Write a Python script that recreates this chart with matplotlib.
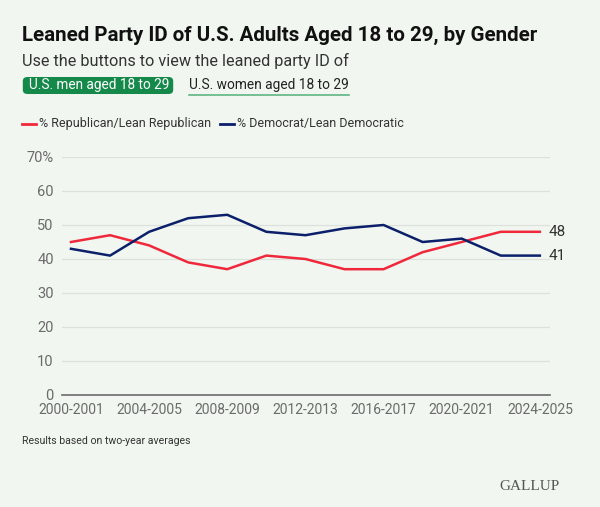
import matplotlib

matplotlib.use("Agg")
import matplotlib.pyplot as plt
from matplotlib.patches import FancyBboxPatch

periods = ["2000-2001", "2002-2003", "2004-2005", "2006-2007", "2008-2009",
           "2010-2011", "2012-2013", "2014-2015", "2016-2017", "2018-2019",
           "2020-2021", "2022-2023", "2024-2025"]
republican = [45, 47, 44, 39, 37, 41, 40, 37, 37, 42, 45, 48, 48]
democrat = [43, 41, 48, 52, 53, 48, 47, 49, 50, 45, 46, 41, 41]
y_ticks = [0, 10, 20, 30, 40, 50, 60, 70]

BG = "#F1F7F0"
RED = "#F0283C"
NAVY = "#0B1F6B"
GREEN = "#14894A"

plt.rcParams["font.family"] = ["Roboto", "DejaVu Sans"]

fig = plt.figure(figsize=(6, 5.07), dpi=100, facecolor=BG)
W, H = 600, 507


def fy(py):
    return 1 - py / H


ax = fig.add_axes([62 / W, fy(395), (550 - 62) / W, (395 - 157) / H])
ax.set_facecolor(BG)

x = list(range(len(periods)))
ax.plot(x, republican, color=RED, lw=1.8, solid_joinstyle="round")
ax.plot(x, democrat, color=NAVY, lw=1.8, solid_joinstyle="round")

ax.set_xlim(-0.23, len(periods) - 1 + 0.26)
ax.set_ylim(0, 70)
ax.set_yticks(y_ticks)
ax.set_yticklabels([f"{v}%" if v == 70 else str(v) for v in y_ticks])
ax.set_xticks(x[::2])
ax.set_xticklabels(periods[::2])
ax.tick_params(axis="both", length=0, labelcolor="#6B6B6B")
ax.tick_params(axis="y", pad=6, labelsize=10.5)
ax.tick_params(axis="x", pad=6, labelsize=10)
ax.grid(axis="y", color="#DCE2DB", lw=0.9)
ax.set_axisbelow(True)
for s in ["top", "right", "left"]:
    ax.spines[s].set_visible(False)
ax.spines["bottom"].set_color("#6B6B6B")
ax.spines["bottom"].set_linewidth(1.2)

ax.annotate(str(republican[-1]), (x[-1], republican[-1]), xytext=(6, 0),
            textcoords="offset points", va="center", fontsize=11, color="#333333")
ax.annotate(str(democrat[-1]), (x[-1], democrat[-1]), xytext=(6, 0),
            textcoords="offset points", va="center", fontsize=11, color="#333333")

# header texts
fig.text(22 / W, fy(35), "Leaned Party ID of U.S. Adults Aged 18 to 29, by Gender",
         fontsize=14.8, fontweight="bold", color="#111111", va="center")
fig.text(22 / W, fy(61), "Use the buttons to view the leaned party ID of",
         fontsize=11.7, color="#333333", va="center")

btn = FancyBboxPatch((24 / W, fy(93)), (174 - 26) / W, 15 / H,
                     boxstyle="round,pad=0.002,rounding_size=0.008",
                     transform=fig.transFigure, facecolor=GREEN, edgecolor="none")
fig.patches.append(btn)
fig.text(29 / W, fy(85), "U.S. men aged 18 to 29", fontsize=9.8, color="white",
         va="center")
fig.text(189 / W, fy(85), "U.S. women aged 18 to 29", fontsize=9.9, color="#222222",
         va="center")
fig.add_artist(plt.Line2D([189 / W, 349 / W], [fy(94.5), fy(94.5)],
                          transform=fig.transFigure, color="#5FB585", lw=1.2))

# legend
fig.add_artist(plt.Line2D([22 / W, 36 / W], [fy(124), fy(124)],
                          transform=fig.transFigure, color=RED, lw=2))
fig.text(39 / W, fy(124), "% Republican/Lean Republican", fontsize=9,
         color="#333333", va="center")
fig.add_artist(plt.Line2D([220 / W, 234 / W], [fy(124), fy(124)],
                          transform=fig.transFigure, color=NAVY, lw=2))
fig.text(237 / W, fy(124), "% Democrat/Lean Democratic", fontsize=9,
         color="#333333", va="center")

fig.text(22 / W, fy(441), "Results based on two-year averages", fontsize=7.6,
         color="#333333", va="center")
fig.text(560 / W, fy(487), "GALLUP", fontsize=11, color="#555555", va="center",
         ha="right", family=["Liberation Serif", "DejaVu Serif"])

fig.savefig("out.png", dpi=100, facecolor=BG)
